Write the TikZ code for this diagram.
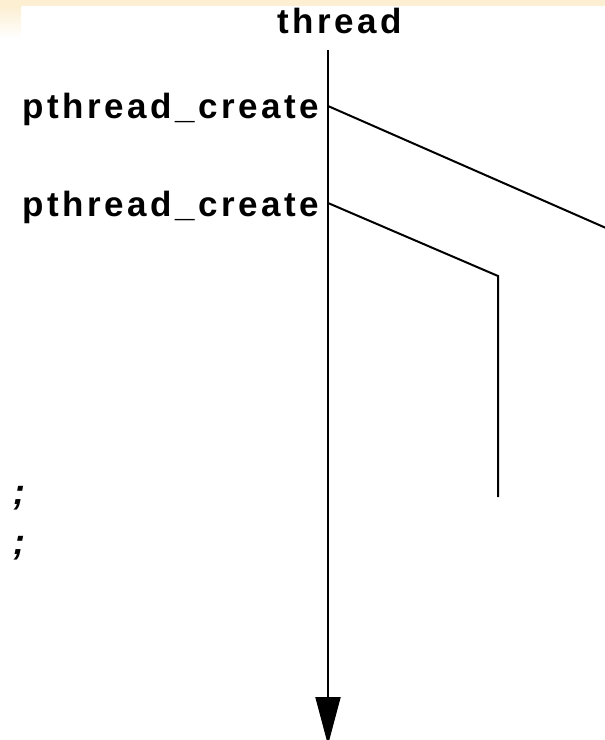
\documentclass[tikz,border=0pt]{standalone}
\usepackage{fontspec}
\newfontfamily\labelfont[LetterSpace=10]{Liberation Sans}
\newfontfamily\codefont{Liberation Sans}
\usetikzlibrary{arrows.meta}
\definecolor{bandorange}{RGB}{252,239,210}
\tikzset{
  threadline/.style={black,line width=2pt},
  callname/.style={font=\labelfont\bfseries\fontsize{35pt}{35pt}\selectfont,inner sep=0pt},
  semicolon/.style={font=\codefont\bfseries\itshape\fontsize{36pt}{36pt}\selectfont,inner sep=0pt,anchor=base},
}

\begin{document}
\begin{tikzpicture}
                    \useasboundingbox (0pt,0pt) rectangle (605pt,-740pt);
                    \fill[bandorange] (0pt,0pt) rectangle (605pt,-6pt);
                    \shade[top color=bandorange,bottom color=white] (0pt,-6pt) rectangle (21pt,-38pt);
                    \node[callname,anchor=base west] (thread) at (277pt,-33pt) {thread};
                    \node[callname,anchor=base east] (create1) at (319pt,-118pt) {pthread\_create};
                    \node[callname,anchor=base east] (create2) at (319pt,-216pt) {pthread\_create};
                    \node[semicolon] (semi1) at (19pt,-504pt) {;};
                    \node[semicolon] (semi2) at (19pt,-554pt) {;};
                    \coordinate (top) at (328pt,-50pt);
                    \coordinate (bottom) at (328pt,-745pt);
                    \coordinate (fork1) at (328pt,-106pt);
                    \coordinate (fork2) at (328pt,-203pt);
                    \coordinate (out1) at (606pt,-228pt);
                    \coordinate (bend2) at (498pt,-276pt);
                    \coordinate (end2) at (498pt,-497pt);
                    \draw[threadline,-{Triangle[length=48pt,width=25pt]}] (top) -- (bottom);
                    \draw[threadline] (fork1) -- (out1);
                    \draw[threadline] (fork2) -- (bend2) -- (end2);
                \end{tikzpicture}
\end{document}
